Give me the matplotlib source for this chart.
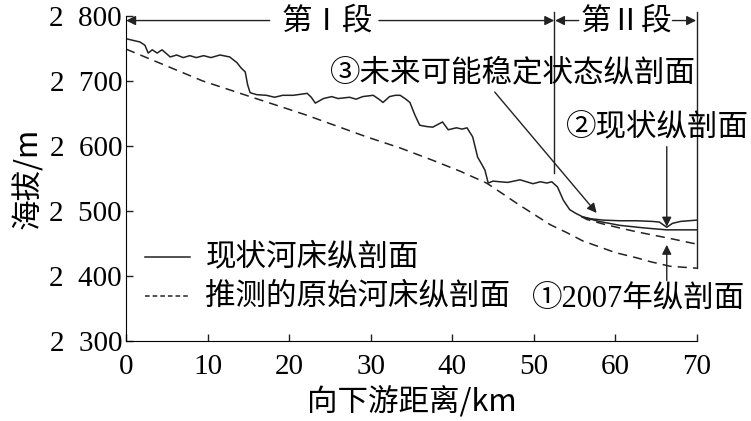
import matplotlib
matplotlib.use("Agg")
import matplotlib.pyplot as plt

plt.rcParams['font.family'] = ['Noto Sans CJK SC', 'DejaVu Sans']

# current river bed profile (solid)
cur_km = [0, 1.7, 2.3, 2.7, 3.2, 3.8, 4.4, 5.4, 6.2, 7.0, 7.8, 8.6, 9.5, 10.4, 11.5, 12.7,
          13.6, 14.1, 14.6, 14.9, 15.2, 16.0, 17.2, 18.2, 19.2, 20.5, 22.2, 22.7, 23.2, 24.2,
          25.2, 26.0, 27.4, 28.2, 29.0, 30.3, 31.0, 31.5, 32.3, 33.0, 33.6, 34.2, 34.8, 35.4,
          36.0, 36.8, 37.6, 38.2, 38.8, 39.2, 39.5, 40.5, 41.2, 41.8, 42.5, 43.1, 43.6, 44.0,
          44.4, 45.0, 45.8, 46.8, 48.3, 49.9, 50.8, 51.6, 52.2, 52.9, 53.6, 54.4, 55.2, 56.0,
          57.0, 58.5, 60.5, 62.6, 64.5, 65.4, 66.3, 67.0, 68.0, 69.0, 70]
cur_m = [2765, 2760, 2755, 2743, 2748, 2743, 2748, 2737, 2740, 2736, 2739, 2736, 2739, 2736, 2740, 2737,
         2728, 2720, 2714, 2694, 2682, 2679, 2678, 2675, 2678, 2678, 2681, 2675, 2666, 2673,
         2676, 2673, 2675, 2672, 2676, 2678, 2672, 2667, 2676, 2678, 2678, 2673, 2667, 2648,
         2632, 2630, 2629, 2633, 2637, 2630, 2625, 2628, 2626, 2628, 2614, 2583, 2572, 2563,
         2543, 2546, 2545, 2544, 2548, 2542, 2545, 2543, 2545, 2537, 2517, 2502, 2496, 2491,
         2488, 2486, 2485, 2485, 2484, 2483, 2475, 2481, 2484, 2485, 2486]

# inferred original river bed (dashed)
orig_km = [0, 9.4, 15.2, 22, 29.5, 33.6, 37.6, 41, 44.2, 46, 48, 50, 52, 54, 56, 58, 60, 62.6, 64.3, 66.7, 70]
orig_m = [2749, 2700, 2676, 2648, 2614, 2597, 2578, 2561, 2543, 2528, 2511, 2495, 2479, 2467, 2454,
          2445, 2436, 2428, 2422, 2415, 2412]

# section II extra profiles
stable_km = [55.9, 58, 60.5, 63.5, 66.3, 70]
stable_m = [2491, 2484, 2478, 2474, 2471, 2471]
y2007_km = [55.9, 56.5, 58.5, 60.5, 62.6, 64.6, 67, 70]
y2007_m = [2491, 2487, 2480, 2474, 2468, 2463, 2457, 2449]

xticks = [0, 10, 20, 30, 40, 50, 60, 70]
yticks = [2300, 2400, 2500, 2600, 2700, 2800]

c = '#222222'
fs = 22
serif_cjk = ['Liberation Serif', 'Noto Sans CJK SC', 'DejaVu Sans']
fig = plt.figure(figsize=(7.51, 4.21), dpi=100)
ax = fig.add_axes([0.168, 0.19, 0.760, 0.772])

ax.plot(cur_km, cur_m, color=c, lw=1.1)
ax.plot(orig_km, orig_m, color=c, lw=1.1, linestyle=(0, (6, 4)))
ax.plot(stable_km, stable_m, color=c, lw=1.1)
ax.plot(y2007_km, y2007_m, color=c, lw=1.1, linestyle=(0, (6, 4)))

ax.set_xlim(0, 70)
ax.set_ylim(2300, 2800)
ax.spines['top'].set_visible(False)
ax.spines['right'].set_visible(False)
ax.set_xticks(xticks, [str(v) for v in xticks])
ax.set_yticks(yticks, [f"{v // 1000}  {v % 1000:03d}" for v in yticks])
ax.tick_params(direction='in', length=5, width=1, color=c, labelsize=21,
               labelfontfamily='Liberation Serif')
ax.tick_params(axis='y', pad=3)
ax.tick_params(axis='x', pad=9)
ax.set_xlabel('向下游距离/km', fontsize=fs, labelpad=5)
ax.set_ylabel('海拔/m', fontsize=fs, labelpad=4)

# section boundaries
ax.plot([52.5, 52.5], [2559, 2806], color=c, lw=1, clip_on=False)
ax.plot([70, 70], [2412, 2806], color=c, lw=1, clip_on=False)

ap = dict(arrowstyle='-|>', color=c, lw=1, mutation_scale=14, shrinkA=0, shrinkB=0)
yh = 2793
ax.annotate('', xy=(0, yh), xytext=(17.6, yh), arrowprops=ap, annotation_clip=False)
ax.annotate('', xy=(52.5, yh), xytext=(31.0, yh), arrowprops=ap, annotation_clip=False)
ax.annotate('', xy=(52.6, yh), xytext=(55.5, yh), arrowprops=ap, annotation_clip=False)
ax.annotate('', xy=(69.9, yh), xytext=(67.0, yh), arrowprops=ap, annotation_clip=False)
ax.text(24.7, yh, '第Ⅰ段', fontsize=fs, ha='center', va='center')
ax.text(61.3, yh, '第Ⅱ段', fontsize=fs, ha='center', va='center')

# labels with arrows
ax.text(25.0, 2712, '③未来可能稳定状态纵剖面', fontsize=fs, ha='left', va='center', clip_on=False)
ax.annotate('', xy=(57.7, 2497), xytext=(45.2, 2683), arrowprops=ap)
ax.text(54.0, 2629, '②现状纵剖面', fontsize=fs, ha='left', va='center', clip_on=False)
ax.annotate('', xy=(66.3, 2476), xytext=(66.3, 2599), arrowprops=ap)
ax.text(49.8, 2363, '①2007年纵剖面', fontsize=fs, family=serif_cjk, ha='left', va='center',
        clip_on=False)
ax.annotate('', xy=(66.3, 2448), xytext=(66.3, 2393), arrowprops=ap)

# legend
ax.plot([2.3, 7.8], [2429, 2429], color=c, lw=1.1)
ax.text(9.7, 2429, '现状河床纵剖面', fontsize=fs, ha='left', va='center')
ax.plot([2.3, 7.8], [2369, 2369], color=c, lw=1.1, linestyle=(0, (3, 2)))
ax.text(9.7, 2369, '推测的原始河床纵剖面', fontsize=fs, ha='left', va='center')

fig.savefig('out.png', dpi=100)
